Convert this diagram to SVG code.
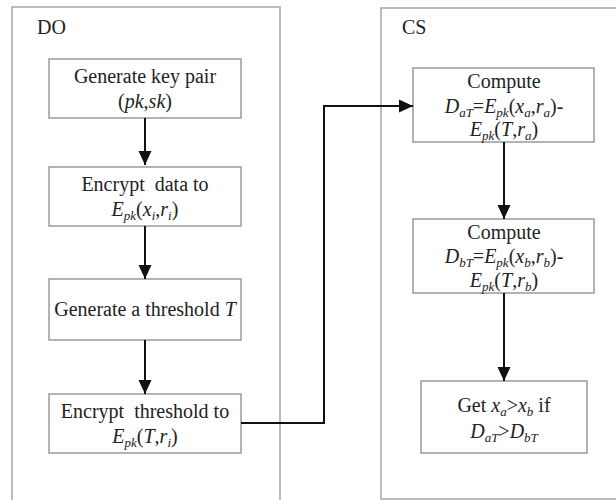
<svg xmlns="http://www.w3.org/2000/svg" width="616" height="500" viewBox="0 0 616 500">
  <style>
    .frame { fill: #ffffff; stroke: #a6a6a6; stroke-width: 1.5; }
    .box { fill: #ffffff; stroke: #9a9a9a; stroke-width: 1.5; }
    text { font-family: 'Liberation Serif', 'DejaVu Serif', serif; font-size: 20px; fill: #222222; }
    .t { text-anchor: middle; }
    .i { font-style: italic; }
    .s { font-style: italic; font-size: 13px; }
    .edge { fill: none; stroke: #111111; stroke-width: 2; }
  </style>
  <defs>
    <marker id="arrow" markerUnits="userSpaceOnUse" markerWidth="14" markerHeight="14" refX="14" refY="7" orient="auto">
      <path d="M0,0.5 L14,7 L0,13.5 Z" fill="#111111"/>
    </marker>
  </defs>

  <rect width="616" height="500" fill="#ffffff"/>

  <!-- swimlanes -->
  <g id="lane-do">
    <rect class="frame" x="12" y="7" width="268" height="500"/>
    <text x="37" y="34">DO</text>
  </g>
  <g id="lane-cs">
    <rect class="frame" x="381" y="8" width="250" height="491"/>
    <text x="402" y="34">CS</text>
  </g>

  <!-- DO steps -->
  <g id="keygen">
    <rect class="box" x="49" y="59" width="192" height="59"/>
    <text class="t" x="145" y="83">Generate key pair</text>
    <text class="t" x="145" y="108">(<tspan class="i">pk</tspan>,<tspan class="i">sk</tspan>)</text>
  </g>
  <g id="encrypt-data">
    <rect class="box" x="49" y="167" width="192" height="59"/>
    <text class="t" x="145" y="191" xml:space="preserve">Encrypt  data to</text>
    <text class="t" x="145" y="216"><tspan class="i">E</tspan><tspan class="s" dy="4">pk</tspan><tspan dy="-4">(</tspan><tspan class="i">x</tspan><tspan class="s" dy="4">i</tspan><tspan dy="-4">,</tspan><tspan class="i">r</tspan><tspan class="s" dy="4">i</tspan><tspan dy="-4">)</tspan></text>
  </g>
  <g id="threshold">
    <rect class="box" x="49" y="279" width="192" height="61"/>
    <text class="t" x="145" y="316">Generate a threshold <tspan class="i">T</tspan></text>
  </g>
  <g id="encrypt-threshold">
    <rect class="box" x="49" y="394" width="192" height="59"/>
    <text class="t" x="145" y="418" xml:space="preserve">Encrypt  threshold to</text>
    <text class="t" x="145" y="443"><tspan class="i">E</tspan><tspan class="s" dy="4">pk</tspan><tspan dy="-4">(</tspan><tspan class="i">T</tspan>,<tspan class="i">r</tspan><tspan class="s" dy="4">i</tspan><tspan dy="-4">)</tspan></text>
  </g>

  <!-- CS steps -->
  <g id="compute-a">
    <rect class="box" x="413" y="68" width="181" height="74"/>
    <text class="t" x="504" y="88">Compute</text>
    <text class="t" x="504" y="113"><tspan class="i">D</tspan><tspan class="s" dy="4">aT</tspan><tspan dy="-4">=</tspan><tspan class="i">E</tspan><tspan class="s" dy="4">pk</tspan><tspan dy="-4">(</tspan><tspan class="i">x</tspan><tspan class="s" dy="4">a</tspan><tspan dy="-4">,</tspan><tspan class="i">r</tspan><tspan class="s" dy="4">a</tspan><tspan dy="-4">)-</tspan></text>
    <text class="t" x="504" y="136"><tspan class="i">E</tspan><tspan class="s" dy="4">pk</tspan><tspan dy="-4">(</tspan><tspan class="i">T</tspan>,<tspan class="i">r</tspan><tspan class="s" dy="4">a</tspan><tspan dy="-4">)</tspan></text>
  </g>
  <g id="compute-b">
    <rect class="box" x="413" y="219" width="181" height="74"/>
    <text class="t" x="504" y="239">Compute</text>
    <text class="t" x="504" y="263"><tspan class="i">D</tspan><tspan class="s" dy="4">bT</tspan><tspan dy="-4">=</tspan><tspan class="i">E</tspan><tspan class="s" dy="4">pk</tspan><tspan dy="-4">(</tspan><tspan class="i">x</tspan><tspan class="s" dy="4">b</tspan><tspan dy="-4">,</tspan><tspan class="i">r</tspan><tspan class="s" dy="4">b</tspan><tspan dy="-4">)-</tspan></text>
    <text class="t" x="504" y="287"><tspan class="i">E</tspan><tspan class="s" dy="4">pk</tspan><tspan dy="-4">(</tspan><tspan class="i">T</tspan>,<tspan class="i">r</tspan><tspan class="s" dy="4">b</tspan><tspan dy="-4">)</tspan></text>
  </g>
  <g id="compare">
    <rect class="box" x="421" y="381" width="166" height="72"/>
    <text class="t" x="504" y="412">Get <tspan class="i">x</tspan><tspan class="s" dy="4">a</tspan><tspan dy="-4">&gt;</tspan><tspan class="i">x</tspan><tspan class="s" dy="4">b</tspan><tspan dy="-4"> if</tspan></text>
    <text class="t" x="504" y="438"><tspan class="i">D</tspan><tspan class="s" dy="4">aT</tspan><tspan dy="-4">&gt;</tspan><tspan class="i">D</tspan><tspan class="s" dy="4">bT</tspan></text>
  </g>

  <!-- connectors -->
  <g id="connectors">
    <path class="edge" d="M145,118 V165" marker-end="url(#arrow)"/>
    <path class="edge" d="M145,226 V279" marker-end="url(#arrow)"/>
    <path class="edge" d="M145,340 V394" marker-end="url(#arrow)"/>
    <path class="edge" d="M241,423 H324 V106 H413" marker-end="url(#arrow)"/>
    <path class="edge" d="M504,142 V219" marker-end="url(#arrow)"/>
    <path class="edge" d="M504,293 V381" marker-end="url(#arrow)"/>
  </g>
</svg>
